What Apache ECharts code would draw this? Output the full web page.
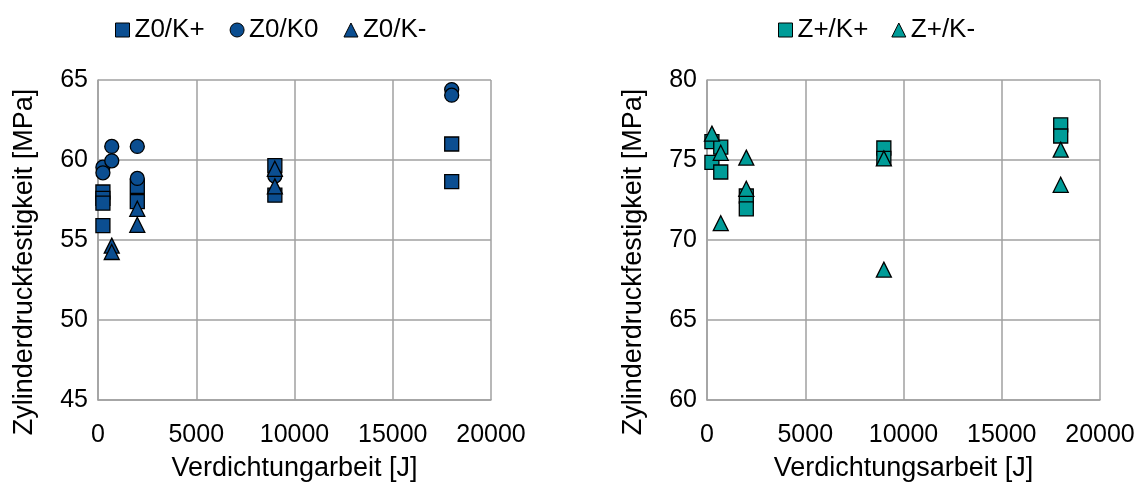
<!DOCTYPE html>
<html>
<head>
<meta charset="utf-8">
<script src="https://cdn.jsdelivr.net/npm/echarts@6/dist/echarts.min.js"></script>
<style>
  html, body { margin: 0; padding: 0; background: #fff; }
  #chart { width: 1140px; height: 484px; }
</style>
</head>
<body>
<div id="chart"></div>
<script>
// Compaction work [J] vs. cylinder compressive strength [MPa]
const z0KPlus = [[250, 58.0], [250, 57.6], [250, 57.3], [250, 55.9], [2000, 58.35], [2000, 57.4], [9000, 59.65], [9000, 57.8], [18000, 61.0], [18000, 58.65]];
const z0K0 = [[250, 59.55], [250, 59.2], [700, 60.85], [700, 59.95], [2000, 60.85], [2000, 58.85], [9000, 59.0], [18000, 64.4], [18000, 64.05]];
const z0KMinus = [[700, 54.65], [700, 54.25], [2000, 56.95], [2000, 55.95], [9000, 59.45], [9000, 58.35]];

const zPlusKPlus = [[250, 76.15], [250, 74.85], [700, 75.8], [700, 74.25], [2000, 72.75], [2000, 71.95], [9000, 75.75], [9000, 75.1], [18000, 77.2], [18000, 76.5]];
const zPlusKMinus = [[250, 76.65], [700, 75.45], [700, 71.05], [2000, 75.15], [2000, 73.2], [9000, 75.1], [9000, 68.15], [18000, 75.65], [18000, 73.45]];

const xTicks = { min: 0, max: 20000, interval: 5000 };
const leftY = { min: 45, max: 65, interval: 5 };
const rightY = { min: 60, max: 80, interval: 5 };

const BLUE = '#0B4E91';
const TEAL = '#009C98';
const GRID = '#A0A0A0';
const FONT = 'Liberation Sans, Arial, sans-serif';
const FS = 25;       // tick labels
const FS_NAME = 27;  // axis titles
const FS_LEG = 26;   // legend

function xAxis(gridIndex, name) {
  return {
    gridIndex, type: 'value', min: xTicks.min, max: xTicks.max, interval: xTicks.interval,
    name, nameLocation: 'middle', nameGap: 55,
    nameTextStyle: { fontFamily: FONT, fontSize: FS_NAME, color: '#000' },
    axisLine: { show: true, lineStyle: { color: GRID, width: 1.5 } },
    axisTick: { show: false },
    axisLabel: { fontFamily: FONT, fontSize: FS, color: '#000', margin: 23, formatter: v => String(v) },
    splitLine: { show: true, lineStyle: { color: GRID, width: 1.5 } }
  };
}
function yAxis(gridIndex, r) {
  return {
    gridIndex, type: 'value', min: r.min, max: r.max, interval: r.interval,
    name: 'Zylinderdruckfestigkeit [MPa]', nameLocation: 'middle', nameGap: 60,
    nameTextStyle: { fontFamily: FONT, fontSize: FS_NAME, color: '#000', padding: [0, 44, 0, 0] },
    axisLine: { show: true, lineStyle: { color: GRID, width: 1.5 } },
    axisTick: { show: false },
    axisLabel: { fontFamily: FONT, fontSize: FS, color: '#000', margin: 10, formatter: v => String(v) },
    splitLine: { show: true, lineStyle: { color: GRID, width: 1.5 } }
  };
}
function scatter(name, data, symbol, color, idx, size) {
  return {
    name, type: 'scatter', data, symbol, symbolSize: size,
    xAxisIndex: idx, yAxisIndex: idx,
    itemStyle: { color, borderColor: '#000', borderWidth: 1.3, opacity: 1 },
    emphasis: { disabled: true }
  };
}
const legendText = { fontFamily: FONT, fontSize: FS_LEG, color: '#000' };

const chart = echarts.init(document.getElementById('chart'), null, { renderer: 'canvas' });
chart.setOption({
  animation: false,
  backgroundColor: '#fff',
  legend: [
    {
      data: [
        { name: 'Z0/K+', icon: 'rect' },
        { name: 'Z0/K0', icon: 'circle' },
        { name: 'Z0/K-', icon: 'triangle' }
      ],
      left: 110, top: 12, itemWidth: 14, itemHeight: 14, itemGap: 25,
      textStyle: legendText,
      itemStyle: { borderColor: '#000', borderWidth: 1 }
    },
    {
      data: [
        { name: 'Z+/K+', icon: 'rect' },
        { name: 'Z+/K-', icon: 'triangle' }
      ],
      left: 773, top: 12, itemWidth: 14, itemHeight: 14, itemGap: 23,
      textStyle: legendText,
      itemStyle: { borderColor: '#000', borderWidth: 1 }
    }
  ],
  grid: [
    { left: 98, right: 649, top: 80, bottom: 84, outerBoundsMode: 'none', containLabel: false },
    { left: 707, right: 40, top: 80, bottom: 84, outerBoundsMode: 'none', containLabel: false }
  ],
  xAxis: [xAxis(0, 'Verdichtungarbeit [J]'), xAxis(1, 'Verdichtungsarbeit [J]')],
  yAxis: [yAxis(0, leftY), yAxis(1, rightY)],
  series: [
    scatter('Z0/K+', z0KPlus, 'rect', BLUE, 0, 14),
    scatter('Z0/K0', z0K0, 'circle', BLUE, 0, 14),
    scatter('Z0/K-', z0KMinus, 'triangle', BLUE, 0, 15),
    scatter('Z+/K+', zPlusKPlus, 'rect', TEAL, 1, 14),
    scatter('Z+/K-', zPlusKMinus, 'triangle', TEAL, 1, 15)
  ]
});
</script>
</body>
</html>
